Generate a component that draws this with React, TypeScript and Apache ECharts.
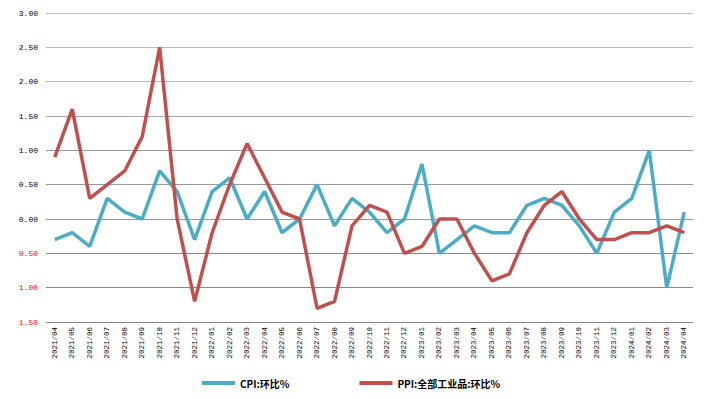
import React, { useEffect, useRef } from "react";
import * as echarts from "echarts";

const categories = [
  "2021/04","2021/05","2021/06","2021/07","2021/08","2021/09","2021/10","2021/11","2021/12",
  "2022/01","2022/02","2022/03","2022/04","2022/05","2022/06","2022/07","2022/08","2022/09","2022/10","2022/11","2022/12",
  "2023/01","2023/02","2023/03","2023/04","2023/05","2023/06","2023/07","2023/08","2023/09","2023/10","2023/11","2023/12",
  "2024/01","2024/02","2024/03","2024/04",
];

const cpi = [
  -0.3, -0.2, -0.4, 0.3, 0.1, 0.0, 0.7, 0.4, -0.3,
  0.4, 0.6, 0.0, 0.4, -0.2, 0.0, 0.5, -0.1, 0.3, 0.1, -0.2, 0.0,
  0.8, -0.5, -0.3, -0.1, -0.2, -0.2, 0.2, 0.3, 0.2, -0.1, -0.5, 0.1,
  0.3, 1.0, -1.0, 0.1,
];

const ppi = [
  0.9, 1.6, 0.3, 0.5, 0.7, 1.2, 2.5, 0.0, -1.2,
  -0.2, 0.5, 1.1, 0.6, 0.1, 0.0, -1.3, -1.2, -0.1, 0.2, 0.1, -0.5,
  -0.4, 0.0, 0.0, -0.5, -0.9, -0.8, -0.2, 0.2, 0.4, 0.0, -0.3, -0.3,
  -0.2, -0.2, -0.1, -0.2,
];

const seriesNames = ["CPI:环比%", "PPI:全部工业品:环比%"];

const yBase = {
  type: "value",
  min: -1.5,
  max: 3,
  interval: 0.5,
  position: "left",
  axisLine: { show: false },
  axisTick: { show: false },
};

export default function App() {
  const ref = useRef<HTMLDivElement>(null);
  useEffect(() => {
    if (!ref.current) return;
    const chart = echarts.init(ref.current, null, { renderer: "svg" });
    chart.setOption({
      animation: false,
      grid: { left: 46, right: 18, top: 13, bottom: 77 },
      legend: {
        left: 197,
        top: 373,
        itemGap: 70,
        itemWidth: 33,
        itemHeight: 4,
        icon: "rect",
        textStyle: { fontSize: 10, fontWeight: "bold", color: "#000", fontFamily: "Noto Sans CJK SC" },
        data: seriesNames,
      },
      xAxis: {
        type: "category",
        data: categories,
        boundaryGap: true,
        axisLine: { show: true, lineStyle: { color: "#999", width: 1 } },
        axisTick: { show: false },
        axisLabel: {
          rotate: 90,
          interval: 0,
          fontSize: 7.5,
          color: "#000",
          fontFamily: "Liberation Mono",
          margin: 5,
        },
      },
      yAxis: [
        {
          ...yBase,
          splitLine: {
            lineStyle: {
              color: ["#888", "#888", "#888", "#888", "#999", "#999", "#aaa", "#bbb", "#bbb", "#bbb"],
              width: 1,
            },
          },
          axisLabel: {
            fontSize: 8,
            fontFamily: "Liberation Mono",
            margin: 8,
            color: "#000000",
            formatter: (v: number) => (v < 0 ? "" : v.toFixed(2)),
          },
        },
        {
          ...yBase,
          splitLine: { show: false },
          axisLabel: {
            fontSize: 8,
            fontFamily: "Liberation Mono",
            margin: 8,
            color: "#ff0000",
            formatter: (v: number) => (v < 0 ? Math.abs(v).toFixed(2) : ""),
          },
        },
      ],
      series: [
        {
          name: seriesNames[0],
          type: "line",
          data: cpi,
          symbol: "none",
          lineStyle: { color: "#4BACC6", width: 3.5 },
          itemStyle: { color: "#4BACC6" },
        },
        {
          name: seriesNames[1],
          type: "line",
          data: ppi,
          symbol: "none",
          lineStyle: { color: "#C0504D", width: 3.5 },
          itemStyle: { color: "#C0504D" },
        },
      ],
    });
    return () => chart.dispose();
  }, []);
  return <div ref={ref} style={{ width: 711, height: 399, position: "absolute", left: 0, top: 0, background: "#fff" }} />;
}
